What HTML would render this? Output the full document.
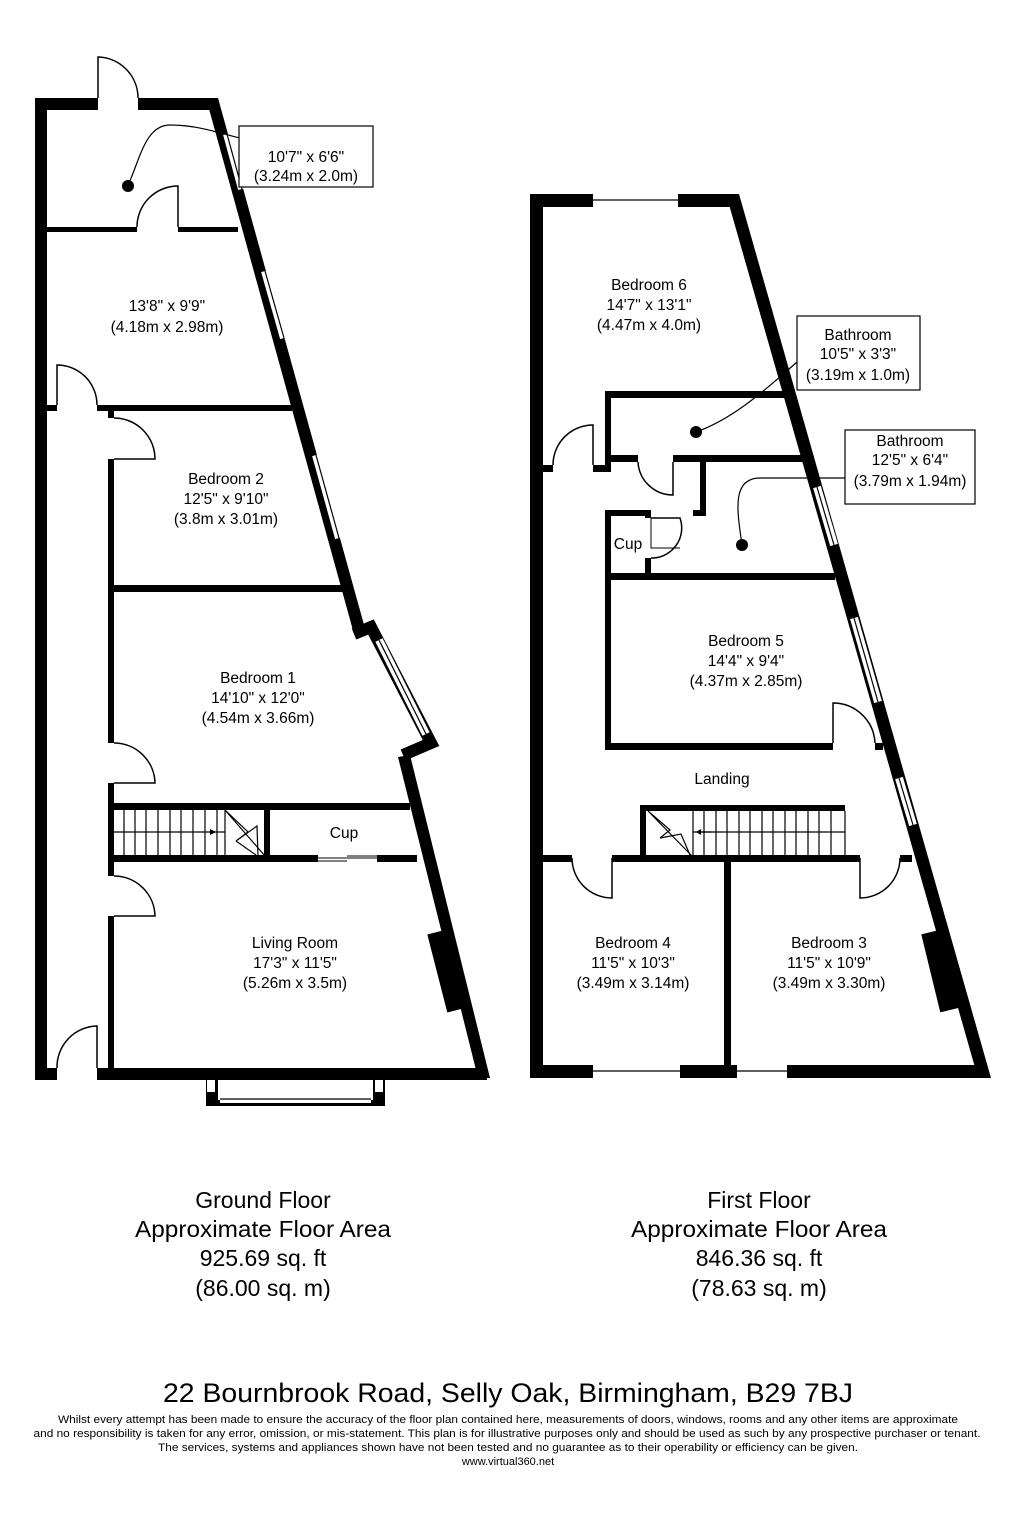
<!DOCTYPE html>
<html><head><meta charset="utf-8"><style>
html,body{margin:0;padding:0;background:#fff;}
svg{display:block;}
text{font-family:"Liberation Sans",Arial,sans-serif;fill:#000;}
</style></head><body>
<svg width="1024" height="1523" viewBox="0 0 1024 1523" xmlns="http://www.w3.org/2000/svg">
<g fill="#000" stroke="none">
<!-- GROUND FLOOR -->
<rect x="35" y="98" width="12" height="982"/>
<rect x="35" y="98" width="63" height="12"/>
<rect x="138" y="98" width="74" height="12"/>
<rect x="35" y="1068" width="22" height="12"/>
<rect x="97" y="1068" width="390" height="12"/>
<rect x="47" y="227" width="90" height="5"/>
<rect x="178" y="227" width="60" height="5"/>
<rect x="47" y="405" width="10" height="6"/>
<rect x="97" y="405" width="195" height="6"/>
<rect x="108" y="411" width="6" height="7"/>
<rect x="108" y="459" width="6" height="284"/>
<rect x="108" y="783" width="6" height="93"/>
<rect x="108" y="916" width="6" height="154"/>
<rect x="108" y="585" width="245" height="7"/>
<rect x="108" y="803" width="302" height="7"/>
<rect x="108" y="855" width="210" height="7"/>
<rect x="377" y="855" width="40" height="7"/>
<rect x="264" y="809" width="6" height="48"/>
<rect x="206" y="1078" width="12" height="27"/>
<rect x="373" y="1078" width="12" height="27"/>
<rect x="206" y="1100" width="179" height="6"/>
</g>
<g fill="none" stroke="#000">
<polygon points="206,98 218,98 366,632 354,634" fill="#000" stroke="none"/>
<polyline points="354,634 371,627 431,743 403,755" stroke-width="12" fill="none"/>
<polygon points="398,757 410,755 490,1078 478,1078" fill="#000" stroke="none"/>
<line x1="437" y1="932" x2="457" y2="1010" stroke-width="20"/>
</g>
<!-- ground windows -->
<g stroke-linecap="butt">
<g stroke="#fff" stroke-width="8">
<line x1="227" y1="134" x2="242" y2="189"/>
<line x1="265" y1="271" x2="284" y2="338"/>
<line x1="316" y1="455" x2="339" y2="538"/>
<line x1="379" y1="640" x2="426" y2="734"/>
<line x1="220" y1="1099" x2="371" y2="1099"/>
<line x1="211" y1="1080" x2="211" y2="1092"/>
<line x1="379" y1="1080" x2="379" y2="1092"/>
</g>
<g stroke="#000" stroke-width="1.2">
<line x1="227" y1="134" x2="242" y2="189"/>
<line x1="265" y1="271" x2="284" y2="338"/>
<line x1="316" y1="455" x2="339" y2="538"/>
<line x1="379" y1="640" x2="426" y2="734"/>
<line x1="220" y1="1099" x2="371" y2="1099"/>
</g>
</g>
<!-- doors ground -->
<g fill="none" stroke="#000" stroke-width="1.5">
<path d="M98,98 V57 A41,41 0 0 1 138,98"/>
<path d="M178,227 V186 A41,41 0 0 0 137,227"/>
<path d="M57,405 V365 A40,40 0 0 1 97,405"/>
<path d="M114,418 A41,41 0 0 1 155,459 H114"/>
<path d="M114,743 A41,41 0 0 1 155,783 H114"/>
<path d="M114,876 A41,41 0 0 1 155,916 H114"/>
<path d="M97,1068 V1026 A41,41 0 0 0 57,1068"/>
<path d="M128,185 C140,160 145,125 170,125 C200,125 225,135 240,138" stroke-width="1.2"/>
<line x1="318" y1="858" x2="377" y2="858" stroke-width="1"/>
<line x1="318" y1="861" x2="347" y2="861" stroke-width="1"/>
<line x1="347" y1="856" x2="377" y2="856" stroke-width="1"/>
</g>
<circle cx="128" cy="186" r="6" fill="#000"/>
<!-- ground stairs -->
<g stroke="#000" stroke-width="1.2" fill="none">
<line x1="114" y1="832" x2="225" y2="832"/>
<path d="M124,810V856M135,810V856M146,810V856M158,810V856M170,810V856M181,810V856M193,810V856M205,810V856M217,810V856M225,810V856"/>
<path d="M225,810 L248,832 L236,841 L257,826 L258,856 M236,841 L256,855"/>
<path d="M225,810 L265,856"/>
</g>
<polygon points="210,829 216,832 210,835" fill="#000"/>
<rect x="239" y="126" width="134" height="61" fill="#fff" stroke="#000" stroke-width="1.2"/>

<!-- FIRST FLOOR -->
<g fill="#000">
<rect x="530" y="194" width="13" height="884"/>
<rect x="530" y="194" width="63" height="13"/>
<rect x="678" y="194" width="56" height="13"/>
<rect x="530" y="1065" width="63" height="13"/>
<rect x="680" y="1065" width="57" height="13"/>
<rect x="787" y="1065" width="200" height="13"/>
<rect x="724" y="858" width="7" height="210"/>
<rect x="605" y="391" width="180" height="7"/>
<rect x="605" y="391" width="6" height="81"/>
<rect x="543" y="465" width="10" height="7"/>
<rect x="593" y="465" width="18" height="7"/>
<rect x="611" y="455" width="27" height="7"/>
<rect x="673" y="455" width="132" height="7"/>
<rect x="700" y="462" width="6" height="54"/>
<rect x="693" y="510" width="13" height="6"/>
<rect x="605" y="510" width="46" height="6"/>
<rect x="605" y="510" width="6" height="240"/>
<rect x="645" y="510" width="6" height="8"/>
<rect x="645" y="558" width="6" height="20"/>
<rect x="605" y="573" width="230" height="7"/>
<rect x="605" y="743" width="228" height="7"/>
<rect x="875" y="743" width="8" height="7"/>
<rect x="640" y="805" width="205" height="6"/>
<rect x="640" y="805" width="6" height="53"/>
<rect x="543" y="855" width="29" height="7"/>
<rect x="612" y="855" width="248" height="7"/>
<rect x="900" y="855" width="12" height="7"/>
</g>
<polygon points="726,194 739,194 991,1078 978,1078" fill="#000"/>
<line x1="931" y1="932" x2="950" y2="1010" stroke="#000" stroke-width="20"/>
<g stroke="#fff" stroke-width="8">
<line x1="593" y1="200" x2="678" y2="200"/>
<line x1="593" y1="1071" x2="680" y2="1071"/>
<line x1="737" y1="1071" x2="787" y2="1071"/>
<line x1="817" y1="487" x2="834" y2="545"/>
<line x1="854" y1="618" x2="878" y2="702"/>
<line x1="899" y1="778" x2="913" y2="825"/>
</g>
<g stroke="#000" stroke-width="1.2">
<line x1="593" y1="200" x2="678" y2="200"/>
<line x1="593" y1="1071" x2="680" y2="1071"/>
<line x1="737" y1="1071" x2="787" y2="1071"/>
<line x1="817" y1="487" x2="834" y2="545"/>
<line x1="854" y1="618" x2="878" y2="702"/>
<line x1="899" y1="778" x2="913" y2="825"/>
</g>
<g fill="none" stroke="#000" stroke-width="1.5">
<path d="M593,465 V425 A40,40 0 0 0 553,465"/>
<path d="M673,462 V495 A35,35 0 0 1 638,462"/>
<path d="M651,518 H680 A30,30 0 0 1 651,558"/>
<path d="M651,518 V548 H680" stroke-width="1"/>
<path d="M833,743 V703 A42,42 0 0 1 875,743"/>
<path d="M612,858 V898 A40,40 0 0 1 572,858"/>
<path d="M860,858 V898 A40,40 0 0 0 900,858"/>
<path d="M696,432 C730,420 760,395 797,362" stroke-width="1.2"/>
<path d="M742,545 C738,515 730,478 760,478 C790,478 810,478 845,478" stroke-width="1.2"/>
</g>
<circle cx="696" cy="432" r="6" fill="#000"/>
<circle cx="742" cy="545" r="6" fill="#000"/>
<!-- first stairs -->
<g stroke="#000" stroke-width="1.2" fill="none">
<line x1="693" y1="832" x2="845" y2="832"/>
<path d="M693,811V855M704,811V855M716,811V855M727,811V855M739,811V855M750,811V855M762,811V855M773,811V855M785,811V855M796,811V855M808,811V855M819,811V855M831,811V855M845,811V855"/>
<path d="M648,811 L693,857 M648,811 L670,830 L660,838 L681,834 L690,855"/>
<line x1="700" y1="832" x2="712" y2="832"/>
</g>
<polygon points="701,829 696,832 701,835" fill="#000"/>
<rect x="797" y="316" width="123" height="74" fill="#fff" stroke="#000" stroke-width="1.2"/>
<rect x="845" y="430" width="130" height="74" fill="#fff" stroke="#000" stroke-width="1.2"/>

<!-- labels -->
<g font-size="15.5" text-anchor="middle">
<text x="306" y="162">10'7" x 6'6"</text>
<text x="306" y="181">(3.24m x 2.0m)</text>
<text x="167" y="311">13'8" x 9'9"</text>
<text x="167" y="332">(4.18m x 2.98m)</text>
<text x="226" y="484">Bedroom 2</text>
<text x="226" y="504">12'5" x 9'10"</text>
<text x="226" y="524">(3.8m x 3.01m)</text>
<text x="258" y="683">Bedroom 1</text>
<text x="258" y="703">14'10" x 12'0"</text>
<text x="258" y="723">(4.54m x 3.66m)</text>
<text x="344" y="838">Cup</text>
<text x="295" y="948">Living Room</text>
<text x="295" y="968">17'3" x 11'5"</text>
<text x="295" y="988">(5.26m x 3.5m)</text>
<text x="649" y="290">Bedroom 6</text>
<text x="649" y="310">14'7" x 13'1"</text>
<text x="649" y="330">(4.47m x 4.0m)</text>
<text x="858" y="340">Bathroom</text>
<text x="858" y="359">10'5" x 3'3"</text>
<text x="858" y="380">(3.19m x 1.0m)</text>
<text x="910" y="446">Bathroom</text>
<text x="910" y="465">12'5" x 6'4"</text>
<text x="910" y="486">(3.79m x 1.94m)</text>
<text x="628" y="549">Cup</text>
<text x="746" y="646">Bedroom 5</text>
<text x="746" y="666">14'4" x 9'4"</text>
<text x="746" y="686">(4.37m x 2.85m)</text>
<text x="722" y="784">Landing</text>
<text x="633" y="948">Bedroom 4</text>
<text x="633" y="968">11'5" x 10'3"</text>
<text x="633" y="988">(3.49m x 3.14m)</text>
<text x="829" y="948">Bedroom 3</text>
<text x="829" y="968">11'5" x 10'9"</text>
<text x="829" y="988">(3.49m x 3.30m)</text>
</g>
<g font-size="23" text-anchor="middle">
<text x="263" y="1208">Ground Floor</text>
<text x="263" y="1237" textLength="256" lengthAdjust="spacingAndGlyphs">Approximate Floor Area</text>
<text x="263" y="1266">925.69 sq. ft</text>
<text x="263" y="1296">(86.00 sq. m)</text>
<text x="759" y="1208">First Floor</text>
<text x="759" y="1237" textLength="256" lengthAdjust="spacingAndGlyphs">Approximate Floor Area</text>
<text x="759" y="1266">846.36 sq. ft</text>
<text x="759" y="1296">(78.63 sq. m)</text>
</g>
<text x="508" y="1402" font-size="27" text-anchor="middle" textLength="690" lengthAdjust="spacingAndGlyphs">22 Bournbrook Road, Selly Oak, Birmingham, B29 7BJ</text>
<g font-size="11" text-anchor="middle">
<text x="508" y="1423" textLength="900" lengthAdjust="spacingAndGlyphs">Whilst every attempt has been made to ensure the accuracy of the floor plan contained here, measurements of doors, windows, rooms and any other items are approximate</text>
<text x="507" y="1437" textLength="947" lengthAdjust="spacingAndGlyphs">and no responsibility is taken for any error, omission, or mis-statement. This plan is for illustrative purposes only and should be used as such by any prospective purchaser or tenant.</text>
<text x="508" y="1451" textLength="700" lengthAdjust="spacingAndGlyphs">The services, systems and appliances shown have not been tested and no guarantee as to their operability or efficiency can be given.</text>
<text x="508" y="1465">www.virtual360.net</text>
</g>
</svg>
</body></html>
